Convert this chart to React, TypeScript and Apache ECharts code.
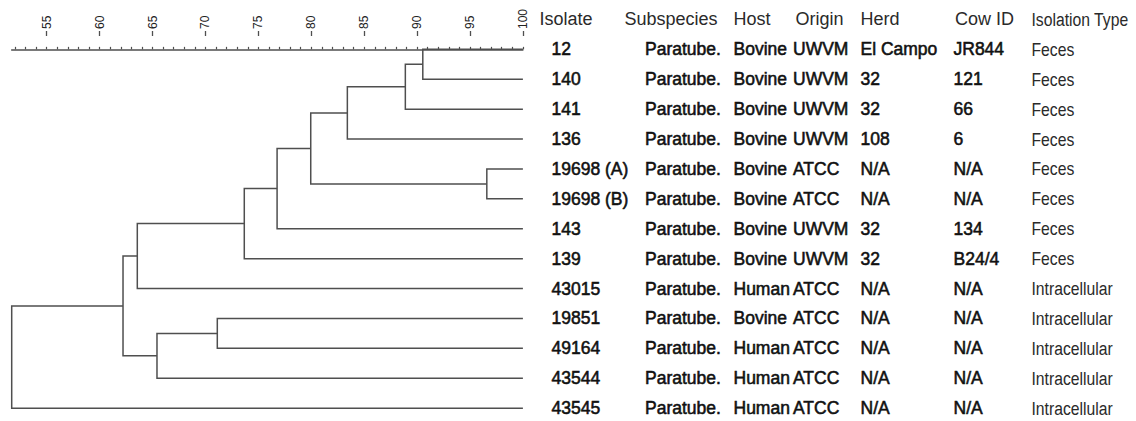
import { useEffect, useRef } from 'react';
import * as echarts from 'echarts';

// ---------------- data ----------------
const isolates = ['12', '140', '141', '136', '19698 (A)', '19698 (B)', '143', '139', '43015', '19851', '49164', '43544', '43545'];
const subspecies = ['Paratube.', 'Paratube.', 'Paratube.', 'Paratube.', 'Paratube.', 'Paratube.', 'Paratube.', 'Paratube.', 'Paratube.', 'Paratube.', 'Paratube.', 'Paratube.', 'Paratube.'];
const hosts = ['Bovine', 'Bovine', 'Bovine', 'Bovine', 'Bovine', 'Bovine', 'Bovine', 'Bovine', 'Human', 'Bovine', 'Human', 'Human', 'Human'];
const origins = ['UWVM', 'UWVM', 'UWVM', 'UWVM', 'ATCC', 'ATCC', 'UWVM', 'UWVM', 'ATCC', 'ATCC', 'ATCC', 'ATCC', 'ATCC'];
const herds = ['El Campo', '32', '32', '108', 'N/A', 'N/A', '32', '32', 'N/A', 'N/A', 'N/A', 'N/A', 'N/A'];
const cowIds = ['JR844', '121', '66', '6', 'N/A', 'N/A', '134', 'B24/4', 'N/A', 'N/A', 'N/A', 'N/A', 'N/A'];
const isolationTypes = ['Feces', 'Feces', 'Feces', 'Feces', 'Feces', 'Feces', 'Feces', 'Feces', 'Intracellular', 'Intracellular', 'Intracellular', 'Intracellular', 'Intracellular'];
const headers = ['Isolate', 'Subspecies', 'Host', 'Origin', 'Herd', 'Cow ID', 'Isolation Type'];

// linkage: [child A, child B, similarity %]; indices >= 13 refer to earlier merges (13 + merge index)
const merges: [number, number, number][] = [
  [0, 1, 90.54],
  [13, 2, 88.89],
  [14, 3, 83.41],
  [4, 5, 96.59],
  [15, 16, 79.95],
  [17, 6, 76.77],
  [18, 7, 73.67],
  [19, 8, 63.56],
  [9, 10, 71.12],
  [21, 11, 65.42],
  [20, 22, 62.21],
  [23, 12, 51.69],
];

const axisMin = 51.69;
const axisMax = 100;
const majorTicks = [55, 60, 65, 70, 75, 80, 85, 90, 95, 100];
const minorTicks = [52, 53, 54, 55, 56, 57, 58, 59, 60, 61, 62, 63, 64, 65, 66, 67, 68, 69, 70, 71, 72, 73, 74, 75, 76, 77, 78, 79, 80, 81, 82, 83, 84, 85, 86, 87, 88, 89, 90, 91, 92, 93, 94, 95, 96, 97, 98, 99, 100];

// ---------------- layout ----------------
const headerX = [539.5, 624.5, 733.5, 795.5, 860.5, 955, 1031.5];
const cellX = [551.5, 645, 733.5, 793, 860.5, 953.5, 1031.5];
const FONT = "'Liberation Sans', Arial, Helvetica, sans-serif";
const LINE = '#4f4f4f';
const NARROW_SCALE = 0.85;

export default function App() {
  const ref = useRef<HTMLDivElement>(null);

  useEffect(() => {
    if (!ref.current) return;
    const chart = echarts.init(ref.current, undefined, { renderer: 'svg' });

    const pos: { x: number; y: number }[] = isolates.map((_, i) => ({ x: axisMax, y: i }));
    const segs = merges.map(([a, b, s]) => {
      const A = pos[a];
      const B = pos[b];
      pos.push({ x: s, y: (A.y + B.y) / 2 });
      return [A.x, A.y, s, B.y, B.x];
    });

    const rows = [[axisMax, -1], ...isolates.map((_, i) => [axisMax, i])];

    const top = 35;
    const rowH = 29.9;
    const yMin = -0.48;
    const yMax = 12.3;

    chart.setOption({
      animation: false,
      backgroundColor: '#ffffff',
      grid: [
        { left: 11.7, right: 1136 - 522.9, top, height: (yMax - yMin) * rowH },
        { left: 11.7, right: 1136 - 522.9, top, height: 1 },
      ],
      xAxis: [
        {
          type: 'value',
          gridIndex: 0,
          position: 'top',
          min: axisMin,
          max: axisMax,
          axisLine: { show: true, lineStyle: { color: LINE, width: 1.5 } },
          axisTick: { show: true, customValues: minorTicks, length: 2.5, lineStyle: { color: LINE, width: 1.2 } },
          axisLabel: {
            show: true,
            customValues: majorTicks,
            rotate: 90,
            margin: 6,
            fontSize: 12,
            color: '#222',
            fontFamily: FONT,
          },
          splitLine: { show: false },
        },
        {
          type: 'value',
          gridIndex: 1,
          position: 'top',
          min: axisMin,
          max: axisMax,
          axisLine: { show: false },
          axisTick: { show: true, customValues: majorTicks, length: 5, lineStyle: { color: LINE, width: 1.3 } },
          axisLabel: { show: false },
          splitLine: { show: false },
        },
      ],
      yAxis: [
        { type: 'value', gridIndex: 0, inverse: true, min: yMin, max: yMax, show: false, splitLine: { show: false } },
        { type: 'value', gridIndex: 1, show: false, min: 0, max: 1, splitLine: { show: false } },
      ],
      series: [
        {
          type: 'custom',
          xAxisIndex: 0,
          yAxisIndex: 0,
          silent: true,
          clip: false,
          data: segs,
          encode: { x: [0, 2, 4], y: [1, 3] },
          renderItem: (_params: any, api: any) => {
            const p1 = api.coord([api.value(0), api.value(1)]);
            const p2 = api.coord([api.value(2), api.value(1)]);
            const p3 = api.coord([api.value(2), api.value(3)]);
            const p4 = api.coord([api.value(4), api.value(3)]);
            return {
              type: 'polyline',
              shape: { points: [p1, p2, p3, p4] },
              style: { stroke: LINE, lineWidth: 1.5, fill: 'none' },
            };
          },
        },
        {
          type: 'custom',
          xAxisIndex: 0,
          yAxisIndex: 0,
          silent: true,
          clip: false,
          data: rows,
          encode: { x: 0, y: 1 },
          renderItem: (_params: any, api: any) => {
            const r = api.value(1);
            const y = api.coord([axisMax, r])[1];
            if (r < 0) {
              return {
                type: 'group',
                children: headers.map((h, c) => ({
                  type: 'text',
                  x: headerX[c],
                  y,
                  scaleX: c === 6 ? NARROW_SCALE : 1,
                  style: {
                    text: h,
                    fill: '#2a2a2a',
                    fontSize: c === 6 ? 18.5 : 18,
                    fontFamily: FONT,
                    align: 'left',
                    verticalAlign: 'middle',
                  },
                })),
              };
            }
            const vals = [isolates[r], subspecies[r], hosts[r], origins[r], herds[r], cowIds[r], isolationTypes[r]];
            return {
              type: 'group',
              children: vals.map((v, c) => {
                const last = c === 6;
                return {
                  type: 'text',
                  x: cellX[c],
                  y,
                  scaleX: last ? NARROW_SCALE : 1,
                  style: {
                    text: v,
                    fill: last ? '#2a2a2a' : '#111',
                    stroke: last ? undefined : '#111',
                    lineWidth: last ? 0 : 0.55,
                    fontSize: last ? 18.5 : 17.5,
                    fontWeight: 'normal',
                    fontFamily: FONT,
                    align: 'left',
                    verticalAlign: 'middle',
                  },
                };
              }),
            };
          },
        },
      ],
    });

    return () => chart.dispose();
  }, []);

  return (
    <div
      ref={ref}
      style={{ position: 'absolute', left: 0, top: 0, width: 1136, height: 421, background: '#fff' }}
    />
  );
}
